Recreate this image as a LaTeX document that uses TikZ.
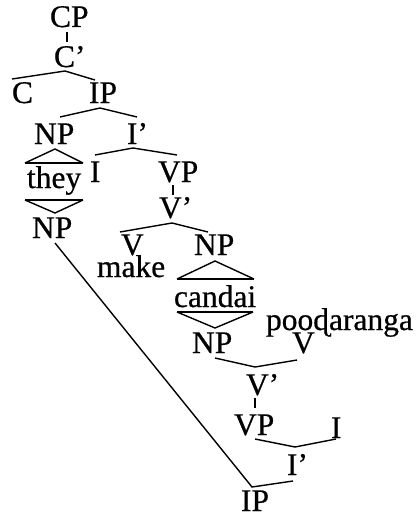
\documentclass[tikz,border=0pt]{standalone}
\usepackage{fontspec}
\setmainfont{Liberation Serif}
\newfontfamily\treefont{Liberation Serif}[FakeBold=0.6]
\begin{document}
\begin{tikzpicture}[x=1pt,y=-1pt,
  lab/.style={anchor=base west,inner sep=0pt,outer sep=0pt,font=\treefont\fontsize{31.5}{36}\selectfont},
  br/.style={line width=1.4pt,line join=miter},
  tbase/.style={line width=2.2pt}]
\useasboundingbox (0,0) rectangle (419,514);
% labels
\node[lab] (CP) at (50,27) {CP};
\node[lab] (Cb) at (54,67) {C’};
\node[lab] (C) at (12,103) {C};
\node[lab] (IP1) at (89,103) {IP};
\node[lab] (NP1) at (34,144) {NP};
\node[lab] (Ib1) at (127,144) {I’};
\node[lab] (they) at (27,188) {they};
\node[lab] (I1) at (90,182) {I};
\node[lab] (VP1) at (158,182) {VP};
\node[lab] (NP2) at (32,238) {NP};
\node[lab] (Vb1) at (159,218) {V’};
\node[lab] (V1) at (121,255) {V};
\node[lab] (make) at (97,277) {make};
\node[lab] (NP3) at (194,255) {NP};
\node[lab] (candai) at (174,307) {candai};
\node[lab] (NP4) at (192,353) {NP};
\node[lab] (pood) at (266,330) {pooɖaranga};
\node[lab] (V2) at (292,353) {V};
\node[lab] (Vb2) at (246,395) {V’};
\node[lab] (VP2) at (234,435) {VP};
\node[lab] (I2) at (331,438) {I};
\node[lab] (Ib2) at (287,475) {I’};
\node[lab] (IP2) at (241,511) {IP};
% connector end points
\coordinate (cpB) at (67,32);  \coordinate (cbT) at (67,42);
\coordinate (cbB) at (65,71);  \coordinate (cT) at (12,79);  \coordinate (ip1T) at (95,80);
\coordinate (ip1B) at (100,108); \coordinate (np1T) at (60,117); \coordinate (ib1T) at (137,117);
\coordinate (ib1B) at (133,148); \coordinate (i1T) at (95,155); \coordinate (vp1T) at (177,155);
\coordinate (np1A) at (55,149); \coordinate (np1L) at (25,163); \coordinate (np1R) at (83,163);
\coordinate (theyL) at (25,200); \coordinate (theyR) at (83,200); \coordinate (np2A) at (55,213);
\coordinate (vp1B) at (173,185); \coordinate (vb1T) at (173,195);
\coordinate (vb1B) at (172,223); \coordinate (v1T) at (120,232); \coordinate (np3T) at (208,232);
\coordinate (np3A) at (215,261); \coordinate (np3L) at (177,279); \coordinate (np3R) at (254,279);
\coordinate (candL) at (177,312); \coordinate (candR) at (253,312); \coordinate (np4A) at (215,328);
\coordinate (np4B) at (215,358); \coordinate (vb2T) at (255,367); \coordinate (v2B) at (297,360);
\coordinate (vb2B) at (255,398); \coordinate (vp2T) at (255,408);
\coordinate (vp2B) at (255,439); \coordinate (ib2T) at (295,447); \coordinate (i2B) at (336,439);
\coordinate (np2B) at (55,243); \coordinate (ip2T) at (252,487); \coordinate (ib2B) at (293,481);
% connectors
\draw[br] (cpB) -- (cbT);
\draw[br] (cT) -- (cbB) -- (ip1T);
\draw[br] (np1T) -- (ip1B) -- (ib1T);
\draw[br] (i1T) -- (ib1B) -- (vp1T);
\draw[br] (np1L) -- (np1A) -- (np1R);
\draw[tbase] (np1L) -- (np1R);
\draw[tbase] (theyL) -- (theyR);
\draw[br] (theyL) -- (np2A) -- (theyR);
\draw[br] (vp1B) -- (vb1T);
\draw[br] (v1T) -- (vb1B) -- (np3T);
\draw[br] (np3L) -- (np3A) -- (np3R);
\draw[tbase] (np3L) -- (np3R);
\draw[tbase] (candL) -- (candR);
\draw[br] (candL) -- (np4A) -- (candR);
\draw[br] (np4B) -- (vb2T) -- (v2B);
\draw[br] (vb2B) -- (vp2T);
\draw[br] (vp2B) -- (ib2T) -- (i2B);
\draw[br] (np2B) -- (ip2T) -- (ib2B);
\end{tikzpicture}
\end{document}
